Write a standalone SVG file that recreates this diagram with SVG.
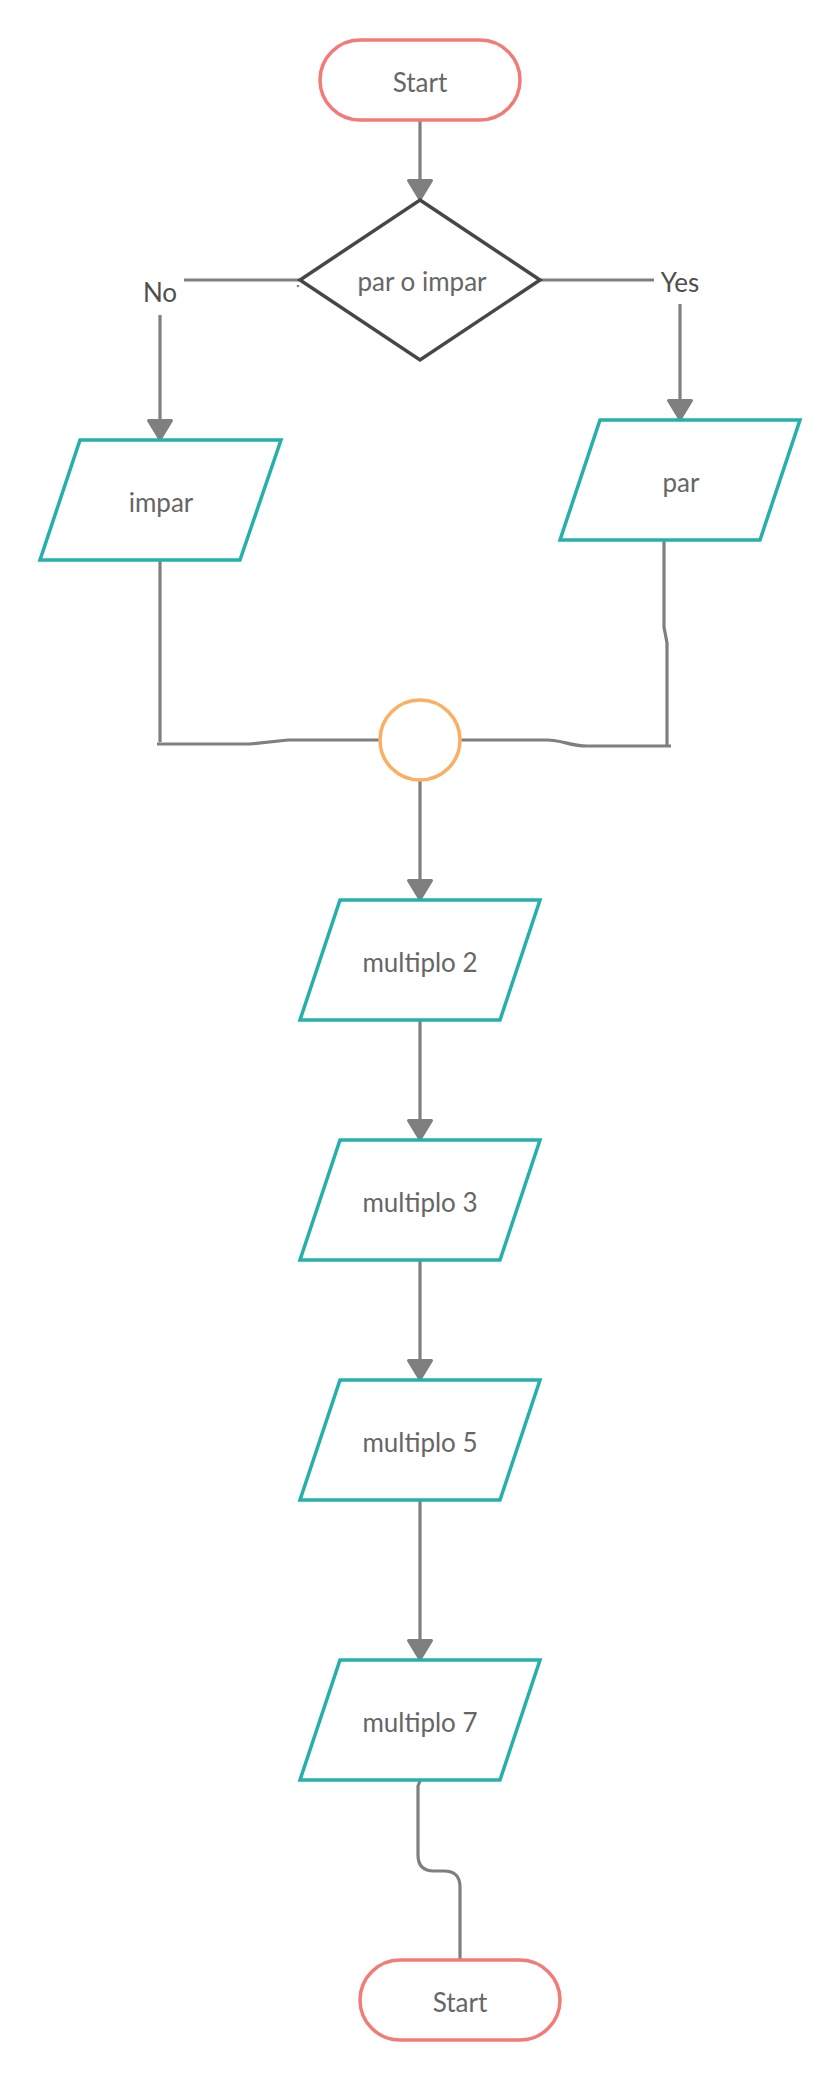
<svg xmlns="http://www.w3.org/2000/svg" width="840" height="2080" viewBox="0 0 840 2080">
<style>
.term{fill:#fff;stroke:#F47A78;stroke-width:3.5}
.io{fill:#fff;stroke:#26B0AC;stroke-width:3.5;stroke-linejoin:miter}
.dec{fill:#fff;stroke:#474747;stroke-width:3.5}
.conn{fill:#fff;stroke:#FAB062;stroke-width:3.5}
.ln{fill:none;stroke:#7F7F7F;stroke-width:3.2}
.t{font-family:Lato,"Liberation Sans",sans-serif;font-size:26px;fill:#666;text-anchor:middle}
.lbl{font-family:Lato,"Liberation Sans",sans-serif;font-size:26px;fill:#4f4f4f;text-anchor:middle}
</style>
<defs>
<marker id="arrow" viewBox="0 0 24 26" refX="22.5" refY="13" markerWidth="24" markerHeight="26" markerUnits="userSpaceOnUse" orient="auto" overflow="visible">
<path d="M2,1.5 L21,13 L2,24.5 Z" fill="#7F7F7F" stroke="#7F7F7F" stroke-width="3" stroke-linejoin="round"/>
</marker>
</defs>
<rect width="840" height="2080" fill="#fff"/>
<g id="connectors">
<path class="ln" d="M420,120 L420,201" marker-end="url(#arrow)"/>
<path class="ln" d="M300,280 L184,280"/>
<path class="ln" d="M160,315 L160,441" marker-end="url(#arrow)"/>
<path class="ln" d="M540,280 L654,280"/>
<path class="ln" d="M680,304 L680,421" marker-end="url(#arrow)"/>
<path class="ln" d="M160,560 L160,742"/>
<path class="ln" d="M157,744 L250,744 L288,740 L380,740"/>
<path class="ln" d="M664,540 L664,627 L667,643 L667,745"/>
<path class="ln" d="M671,746 L587,746 C570,746 562,740 547,740 L460,740"/>
<path class="ln" d="M420,780 L420,901" marker-end="url(#arrow)"/>
<path class="ln" d="M420,1020 L420,1141" marker-end="url(#arrow)"/>
<path class="ln" d="M420,1260 L420,1381" marker-end="url(#arrow)"/>
<path class="ln" d="M420,1500 L420,1661" marker-end="url(#arrow)"/>
<path class="ln" d="M420,1781 L418,1786 L418,1855 Q418,1871 434,1871 L444,1871 Q460,1871 460,1887 L460,1960"/>
<circle cx="298" cy="286" r="1.3" fill="#888"/>
</g>
<g id="label-no"><text class="lbl" x="160" y="302">No</text></g>
<g id="label-yes"><text class="lbl" x="680" y="292">Yes</text></g>
<g id="start">
<rect class="term" x="320" y="40" width="200" height="80" rx="40" ry="40"/>
<text class="t" x="420" y="92">Start</text>
</g>
<g id="decision">
<polygon class="dec" points="420,200 540,280 420,360 300,280"/>
<text class="t" x="422" y="291">par o impar</text>
</g>
<g id="impar">
<polygon class="io" points="80,440 281,440 240,560 40,560"/>
<text class="t" x="161" y="512">impar</text>
</g>
<g id="par">
<polygon class="io" points="600,420 800,420 760,540 560,540"/>
<text class="t" x="681" y="492">par</text>
</g>
<g id="merge">
<circle class="conn" cx="420" cy="740" r="40"/>
</g>
<g id="multiplo2">
<polygon class="io" points="340,900 540,900 500,1020 300,1020"/>
<text class="t" x="420" y="972">multiplo 2</text>
</g>
<g id="multiplo3">
<polygon class="io" points="340,1140 540,1140 500,1260 300,1260"/>
<text class="t" x="420" y="1212">multiplo 3</text>
</g>
<g id="multiplo5">
<polygon class="io" points="340,1380 540,1380 500,1500 300,1500"/>
<text class="t" x="420" y="1452">multiplo 5</text>
</g>
<g id="multiplo7">
<polygon class="io" points="340,1660 540,1660 500,1780 300,1780"/>
<text class="t" x="420" y="1732">multiplo 7</text>
</g>
<g id="end">
<rect class="term" x="360" y="1960" width="200" height="80" rx="40" ry="40"/>
<text class="t" x="460" y="2012">Start</text>
</g>
</svg>
